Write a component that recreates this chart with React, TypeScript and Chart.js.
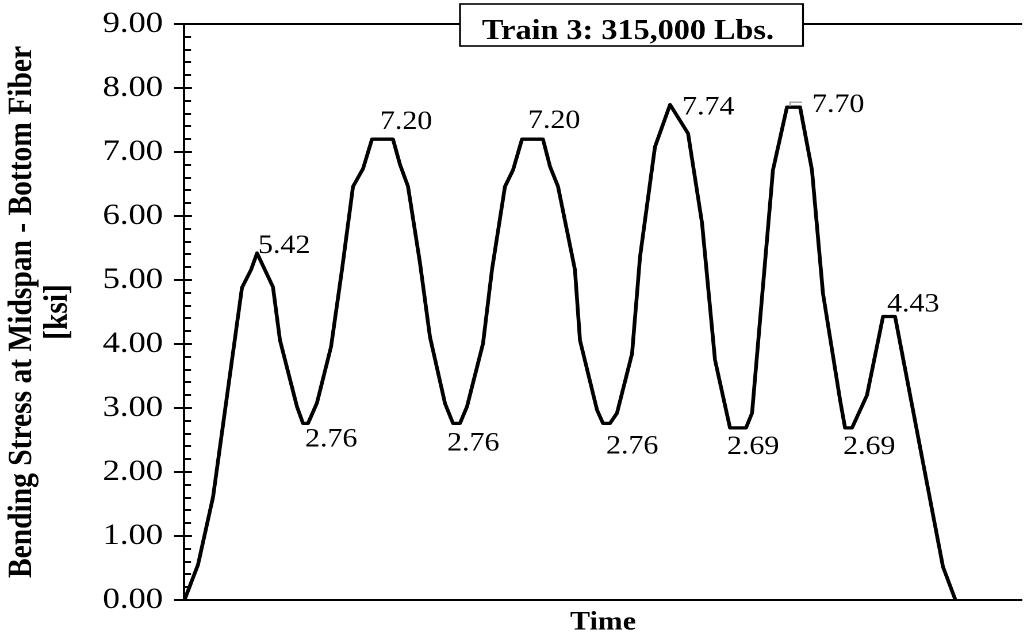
import { useEffect, useRef } from 'react';
import { Chart, registerables } from 'chart.js';

Chart.register(...registerables);

// Page size and the horizontal stretch applied to the whole drawing
const W = 1035;
const H = 636;
const STRETCH = 1.15;
const CW = W / STRETCH;

const SERIF = '"Liberation Serif", "Times New Roman", serif';

// Time samples (s) and bending stress (ksi)
const timeValues = [
  0.07, 1.0, 2.08, 4.15, 4.8, 5.23, 6.37, 6.87, 8.09, 8.52, 8.88, 9.52, 10.53, 11.31, 12.1, 12.82,
  13.46, 14.96, 15.47, 16.04, 16.9, 17.61, 18.69, 19.26, 19.76, 20.26, 21.41, 22.05, 22.98, 23.56,
  24.2, 25.7, 26.21, 26.78, 27.99, 28.35, 29.57, 30.0, 30.5, 31.0, 32.08, 32.65, 33.72, 34.8, 36.09,
  37.09, 38.02, 39.09, 40.24, 40.67, 42.17, 43.17, 44.11, 44.96, 45.75, 46.97, 47.33, 47.83, 48.9,
  50.05, 50.91, 54.34, 55.2,
];
const stressValues = [
  0.02, 0.55, 1.61, 4.88, 5.16, 5.42, 4.89, 4.06, 3.02, 2.76, 2.76, 3.08, 3.96, 5.16, 6.46, 6.74,
  7.2, 7.2, 6.8, 6.46, 5.26, 4.11, 3.07, 2.76, 2.76, 3.02, 4.01, 5.16, 6.46, 6.72,
  7.2, 7.2, 6.77, 6.46, 5.16, 4.06, 2.97, 2.76, 2.76, 2.92, 3.85, 5.36, 7.08, 7.74, 7.29,
  5.89, 3.75, 2.69, 2.69, 2.92, 6.72, 7.7, 7.7, 6.72, 4.79, 3.13, 2.69, 2.69, 3.2,
  4.43, 4.43, 0.52, 0.02,
];

// Points that carry a value label, with the label's offset from the point (page px)
const labelIndices = [5, 16, 30, 43, 52, 59, 9, 23, 37, 47, 56];
const labelDx = [1, 8, 6, 12, 12, 4, 2, -6, 3, -3, -2];
const labelDy = [0, -10, -11, 10, 5, -5, 23, 27, 30, 26, 26];

const yTicks = [0, 1, 2, 3, 4, 5, 6, 7, 8, 9];

const chartTitle = 'Train 3: 315,000 Lbs.';
const yTitle = ['Bending Stress at Midspan - Bottom Fiber', '[ksi]'];
const xTitle = 'Time';

function sx(v: number) {
  return v / STRETCH;
}

const decorations = {
  id: 'decorations',
  afterDraw(chart: any) {
    const { ctx, chartArea, scales } = chart;
    const ys = scales.y;
    const xs = scales.x;
    ctx.save();

    // top frame line
    ctx.strokeStyle = '#000';
    ctx.lineWidth = 2;
    ctx.beginPath();
    ctx.moveTo(chartArea.left, chartArea.top);
    ctx.lineTo(chartArea.right, chartArea.top);
    ctx.stroke();

    // major and minor tick marks on the value axis
    ctx.lineWidth = 2;
    for (let v = 0; v <= 9.0001; v += 0.2) {
      const y = Math.round(ys.getPixelForValue(v));
      const major = Math.abs(v - Math.round(v)) < 1e-6;
      ctx.beginPath();
      ctx.moveTo(chartArea.left - (major ? sx(10) : 0), y);
      ctx.lineTo(chartArea.left + (major ? sx(8) : sx(7)), y);
      ctx.stroke();
    }

    // value labels
    ctx.fillStyle = '#000';
    ctx.font = `26px ${SERIF}`;
    ctx.textAlign = 'left';
    ctx.textBaseline = 'alphabetic';
    labelIndices.forEach((idx, i) => {
      const px = xs.getPixelForValue(timeValues[idx]);
      const py = ys.getPixelForValue(stressValues[idx]);
      ctx.fillText(stressValues[idx].toFixed(2), px + sx(labelDx[i]), py + labelDy[i]);
    });

    // leader line of the 7.70 label
    const li = 52;
    const lx = xs.getPixelForValue(timeValues[li]);
    const ly = ys.getPixelForValue(stressValues[li]);
    ctx.strokeStyle = '#a6a6a6';
    ctx.lineWidth = 1.5;
    ctx.beginPath();
    ctx.moveTo(lx - sx(10), ly - 1);
    ctx.lineTo(lx - sx(10), ly - 5);
    ctx.lineTo(lx + sx(2), ly - 5);
    ctx.stroke();

    // boxed chart title overlapping the top line
    const bx = sx(460);
    const bw = sx(343);
    const by = 4;
    const bh = 42;
    ctx.fillStyle = '#fff';
    ctx.fillRect(bx, by, bw, bh);
    ctx.strokeStyle = '#000';
    ctx.lineWidth = 1.6;
    ctx.strokeRect(bx, by, bw, bh);
    ctx.fillStyle = '#000';
    ctx.font = `bold 28px ${SERIF}`;
    ctx.textAlign = 'center';
    ctx.fillText(chartTitle, sx(628), 39);

    ctx.restore();
  },
};

export default function App() {
  const ref = useRef<HTMLCanvasElement>(null);

  useEffect(() => {
    if (!ref.current) return;
    const points = timeValues.map((t, i) => ({ x: t, y: stressValues[i] }));
    const chart = new Chart(ref.current, {
      type: 'line',
      data: {
        datasets: [
          {
            data: points,
            borderColor: '#000',
            borderWidth: 3.3,
            pointRadius: 0,
            tension: 0,
            borderJoinStyle: 'round',
            borderCapStyle: 'round',
            fill: false,
          },
        ],
      },
      options: {
        animation: false,
        responsive: false,
        devicePixelRatio: 2,
        layout: { padding: { left: 0, right: CW - sx(1022), top: 24, bottom: 0 } },
        plugins: {
          legend: { display: false },
          tooltip: { enabled: false },
          title: { display: false },
        },
        scales: {
          x: {
            type: 'linear',
            min: 0,
            max: 60,
            ticks: { display: false },
            grid: { display: false },
            border: { display: true, color: '#000', width: 2 },
            title: {
              display: true,
              text: xTitle,
              color: '#000',
              font: { family: SERIF, size: 26, weight: 'bold', lineHeight: 1.0 },
              padding: { top: 0, bottom: 0 },
            },
            afterFit: (scale: any) => {
              scale.height = 36;
            },
          },
          y: {
            min: 0,
            max: 9,
            afterBuildTicks: (scale: any) => {
              scale.ticks = yTicks.map((v) => ({ value: v }));
            },
            ticks: {
              color: '#000',
              font: { family: SERIF, size: 30 },
              padding: sx(21) - 8,
              callback: (v: any) => Number(v).toFixed(2),
            },
            grid: { display: false },
            border: { display: true, color: '#000', width: 2 },
            title: {
              display: true,
              text: yTitle,
              color: '#000',
              font: { family: SERIF, size: 29.5, weight: 'bold', lineHeight: 1.05 },
              padding: { top: 4, bottom: 0 },
            },
            afterFit: (scale: any) => {
              scale.width = sx(184);
              scale.paddingTop = 0;
              scale.paddingBottom = 0;
            },
          },
        },
      },
      plugins: [decorations],
    });
    return () => chart.destroy();
  }, []);

  return (
    <div
      style={{
        position: 'fixed',
        left: 0,
        top: 0,
        width: W,
        height: H,
        overflow: 'hidden',
        background: '#fff',
      }}
    >
      <div style={{ width: CW, height: H, transform: `scaleX(${STRETCH})`, transformOrigin: '0 0' }}>
        <canvas ref={ref} width={CW} height={H} style={{ display: 'block', width: CW, height: H }} />
      </div>
    </div>
  );
}
